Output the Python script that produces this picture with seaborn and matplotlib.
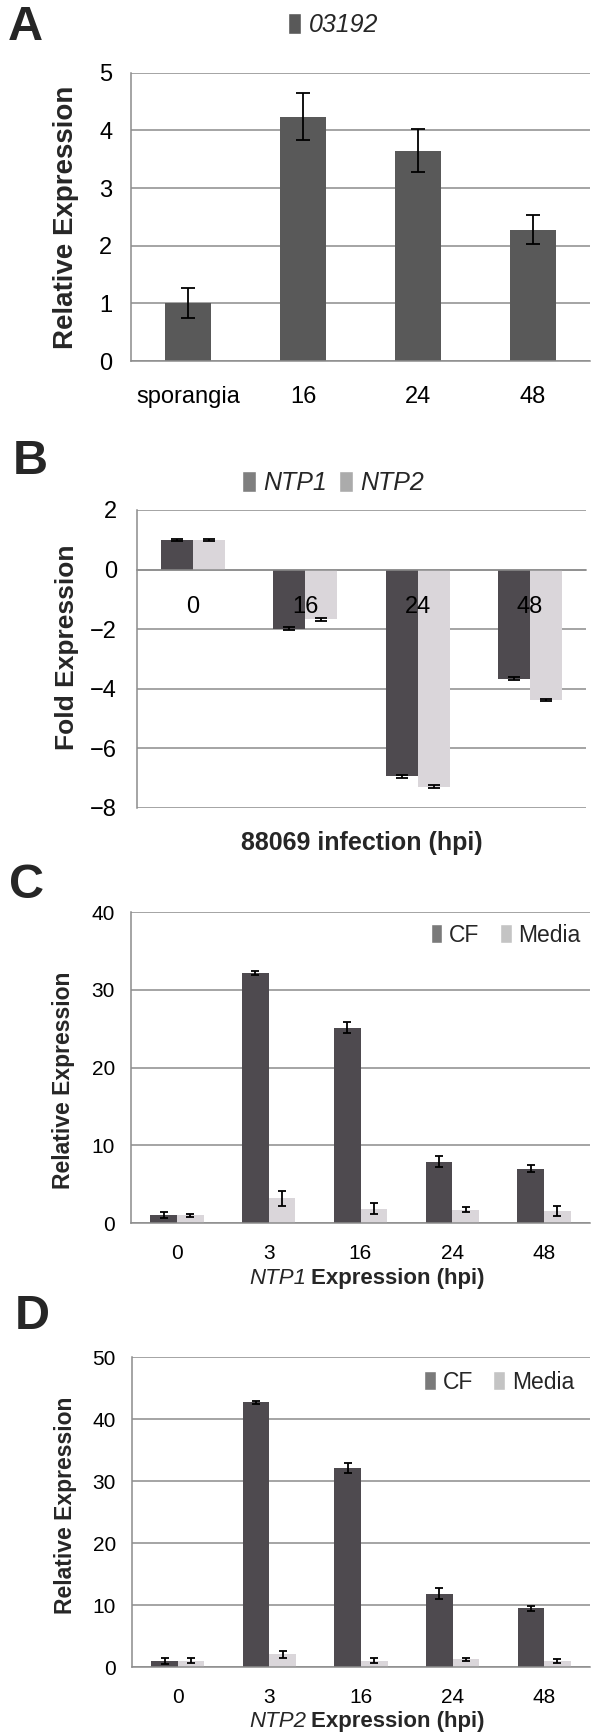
import numpy as np
import pandas as pd
import matplotlib
matplotlib.use("Agg")
import matplotlib.pyplot as plt
import seaborn as sns
from matplotlib.patches import Patch

# Panel A: 03192 relative expression
a_cats = ['sporangia', '16', '24', '48']
a_vals = [1.0, 4.24, 3.65, 2.28]
a_err = [0.26, 0.41, 0.38, 0.25]

# Panel B: fold expression after 88069 infection
b_cats = ['0', '16', '24', '48']
b_ntp1 = [1.0, -1.98, -6.93, -3.66]
b_ntp2 = [1.0, -1.67, -7.28, -4.37]
b_ntp1_err = [0.03, 0.05, 0.05, 0.04]
b_ntp2_err = [0.03, 0.05, 0.06, 0.03]

# Panel C: NTP1 expression, CF vs Media
c_cats = ['0', '3', '16', '24', '48']
c_cf = [1.0, 32.1, 25.1, 7.9, 7.0]
c_media = [1.0, 3.2, 1.85, 1.7, 1.6]
c_cf_err = [0.4, 0.25, 0.7, 0.75, 0.45]
c_media_err = [0.2, 0.95, 0.75, 0.3, 0.65]

# Panel D: NTP2 expression, CF vs Media
d_cats = ['0', '3', '16', '24', '48']
d_cf = [1.0, 42.7, 32.1, 11.85, 9.5]
d_media = [1.0, 2.05, 1.0, 1.25, 1.0]
d_cf_err = [0.5, 0.27, 0.75, 0.85, 0.4]
d_media_err = [0.4, 0.55, 0.4, 0.27, 0.3]

W, H = 591, 1735
GRID = '#8c8c8c'
DARK = '#4e4a4f'
LIGHT = '#dad6da'
NARROW = ['Liberation Sans Narrow', 'Arial Narrow', 'Liberation Sans', 'DejaVu Sans']
WIDE = ['Liberation Sans', 'DejaVu Sans']

sns.set_style('white')
plt.rcParams['font.family'] = NARROW

fig = plt.figure(figsize=(W / 100, H / 100), dpi=100)


def make_axes(left, right, top, bottom):
    return fig.add_axes([left / W, 1 - bottom / H, (right - left) / W, (bottom - top) / H])


def style_axes(ax, ylim, yticks, n, size, xpad, ypad):
    ax.set_ylim(*ylim)
    ax.set_yticks(yticks)
    ax.set_xlim(-0.5, n - 0.5)
    ax.yaxis.grid(True, color=GRID, linewidth=1.1)
    ax.xaxis.grid(False)
    ax.set_axisbelow(True)
    for s in ['top', 'right']:
        ax.spines[s].set_visible(False)
    for s in ['left', 'bottom']:
        ax.spines[s].set_color(GRID)
        ax.spines[s].set_linewidth(1.1)
    ax.set_xticks(np.arange(-0.5, n), minor=True)
    ax.tick_params(axis='x', which='major', length=0, pad=xpad, labelsize=size, colors='black')
    ax.tick_params(axis='x', which='minor', length=4.5, width=1.1, color=GRID, direction='out')
    ax.tick_params(axis='y', length=4.5, width=1.1, color=GRID, direction='out',
                   pad=ypad, labelsize=size, labelcolor='black')
    ax.set_xlabel('')
    ax.set_ylabel('')


def add_errors(ax, vals_list, errs_list, capsize):
    for cont, vals, errs in zip(ax.containers, vals_list, errs_list):
        xs = [p.get_x() + p.get_width() / 2 for p in cont]
        ax.errorbar(xs, vals, yerr=errs, fmt='none', ecolor='black',
                    elinewidth=1.3, capsize=capsize, capthick=1.3, zorder=5)


def grouped(cats, s1, s2, n1, n2):
    return pd.DataFrame({
        'cat': cats + cats,
        'val': s1 + s2,
        'series': [n1] * len(cats) + [n2] * len(cats),
    })


# ---------- A ----------
axA = make_axes(131, 590, 72.7, 361)
dfA = pd.DataFrame({'cat': a_cats, 'val': a_vals})
sns.barplot(data=dfA, x='cat', y='val', order=a_cats, color='#595959', saturation=1,
            width=0.4, errorbar=None, linewidth=0, ax=axA)
add_errors(axA, [a_vals], [a_err], 5)
style_axes(axA, (0, 5), range(0, 6), 4, 17, 18, 9)
axA.set_ylabel('Relative Expression', fontsize=20, fontweight='bold', family=WIDE)
axA.yaxis.set_label_coords(-0.113, 0.5)
axA.legend(handles=[Patch(facecolor='#595959', label='03192')], loc='center',
           bbox_to_anchor=(0.44, 1.166), frameon=False, handlelength=0.55, handleheight=0.9,
           handletextpad=0.3, prop={'family': NARROW, 'style': 'italic', 'size': 18})

# ---------- B ----------
axB = make_axes(137, 586, 510, 808)
dfB = grouped(b_cats, b_ntp1, b_ntp2, 'NTP1', 'NTP2')
sns.barplot(data=dfB, x='cat', y='val', hue='series', order=b_cats, palette=[DARK, LIGHT],
            saturation=1, width=0.57, errorbar=None, linewidth=0, legend=False, ax=axB)
add_errors(axB, [b_ntp1, b_ntp2], [b_ntp1_err, b_ntp2_err], 4)
style_axes(axB, (-8, 2), range(-8, 3, 2), 4, 17, 19, 10)
axB.spines['bottom'].set_position(('data', 0))
# category labels sit inside the plot, drawn over the bars
axB.xaxis.set_zorder(4)
axB.set_ylabel('Fold Expression', fontsize=19, fontweight='bold', family=WIDE)
axB.yaxis.set_label_coords(-0.129, 0.54)
axB.text(0.5, -0.117, '88069 infection (hpi)', transform=axB.transAxes, ha='center',
         va='center', fontsize=18, fontweight='bold')
axB.legend(handles=[Patch(facecolor='#7f7f7f', label='NTP1'), Patch(facecolor='#ababab', label='NTP2')],
           loc='center', bbox_to_anchor=(0.437, 1.09), ncol=2, frameon=False,
           handlelength=0.55, handleheight=0.9, handletextpad=0.3, columnspacing=0.5,
           prop={'family': NARROW, 'style': 'italic', 'size': 18})

# ---------- C ----------
axC = make_axes(131, 590, 912, 1223)
dfC = grouped(c_cats, c_cf, c_media, 'CF', 'Media')
sns.barplot(data=dfC, x='cat', y='val', hue='series', order=c_cats, palette=[DARK, LIGHT],
            saturation=1, width=0.58, errorbar=None, linewidth=0, legend=False, ax=axC)
add_errors(axC, [c_cf, c_media], [c_cf_err, c_media_err], 3)
style_axes(axC, (0, 40), range(0, 41, 10), 5, 15, 15, 7)
axC.set_ylabel('Relative Expression', fontsize=16.5, fontweight='bold', family=WIDE)
axC.yaxis.set_label_coords(-0.122, 0.46)
axC.text(0.382, -0.177, 'NTP1', transform=axC.transAxes, ha='right', va='center',
         fontsize=16, style='italic')
axC.text(0.392, -0.177, 'Expression (hpi)', transform=axC.transAxes, ha='left', va='center',
         fontsize=16, fontweight='bold')
axC.legend(handles=[Patch(facecolor='#7a7a7a', label='CF'), Patch(facecolor='#c4c4c4', label='Media')],
           loc='center right', bbox_to_anchor=(1.0, 0.926), ncol=2, frameon=False,
           handlelength=0.5, handleheight=0.9, handletextpad=0.3, columnspacing=0.9,
           borderaxespad=0, prop={'family': NARROW, 'size': 16.5})

# ---------- D ----------
axD = make_axes(132, 590, 1357, 1667)
dfD = grouped(d_cats, d_cf, d_media, 'CF', 'Media')
sns.barplot(data=dfD, x='cat', y='val', hue='series', order=d_cats, palette=[DARK, LIGHT],
            saturation=1, width=0.58, errorbar=None, linewidth=0, legend=False, ax=axD)
add_errors(axD, [d_cf, d_media], [d_cf_err, d_media_err], 3)
style_axes(axD, (0, 50), range(0, 51, 10), 5, 15, 15, 7)
axD.set_ylabel('Relative Expression', fontsize=16.5, fontweight='bold', family=WIDE)
axD.yaxis.set_label_coords(-0.12, 0.52)
axD.text(0.381, -0.177, 'NTP2', transform=axD.transAxes, ha='right', va='center',
         fontsize=16, style='italic')
axD.text(0.391, -0.177, 'Expression (hpi)', transform=axD.transAxes, ha='left', va='center',
         fontsize=16, fontweight='bold')
axD.legend(handles=[Patch(facecolor='#7a7a7a', label='CF'), Patch(facecolor='#c4c4c4', label='Media')],
           loc='center right', bbox_to_anchor=(0.985, 0.919), ncol=2, frameon=False,
           handlelength=0.5, handleheight=0.9, handletextpad=0.3, columnspacing=0.9,
           borderaxespad=0, prop={'family': NARROW, 'size': 16.5})

# panel letters
for letter, x, y in [('A', 8, 27), ('B', 13, 461), ('C', 9, 885), ('D', 15, 1316)]:
    fig.text(x / W, 1 - y / H, letter, fontsize=35, fontweight='bold', family=WIDE,
             ha='left', va='center')

fig.savefig('out.png', dpi=100)
plt.close(fig)
